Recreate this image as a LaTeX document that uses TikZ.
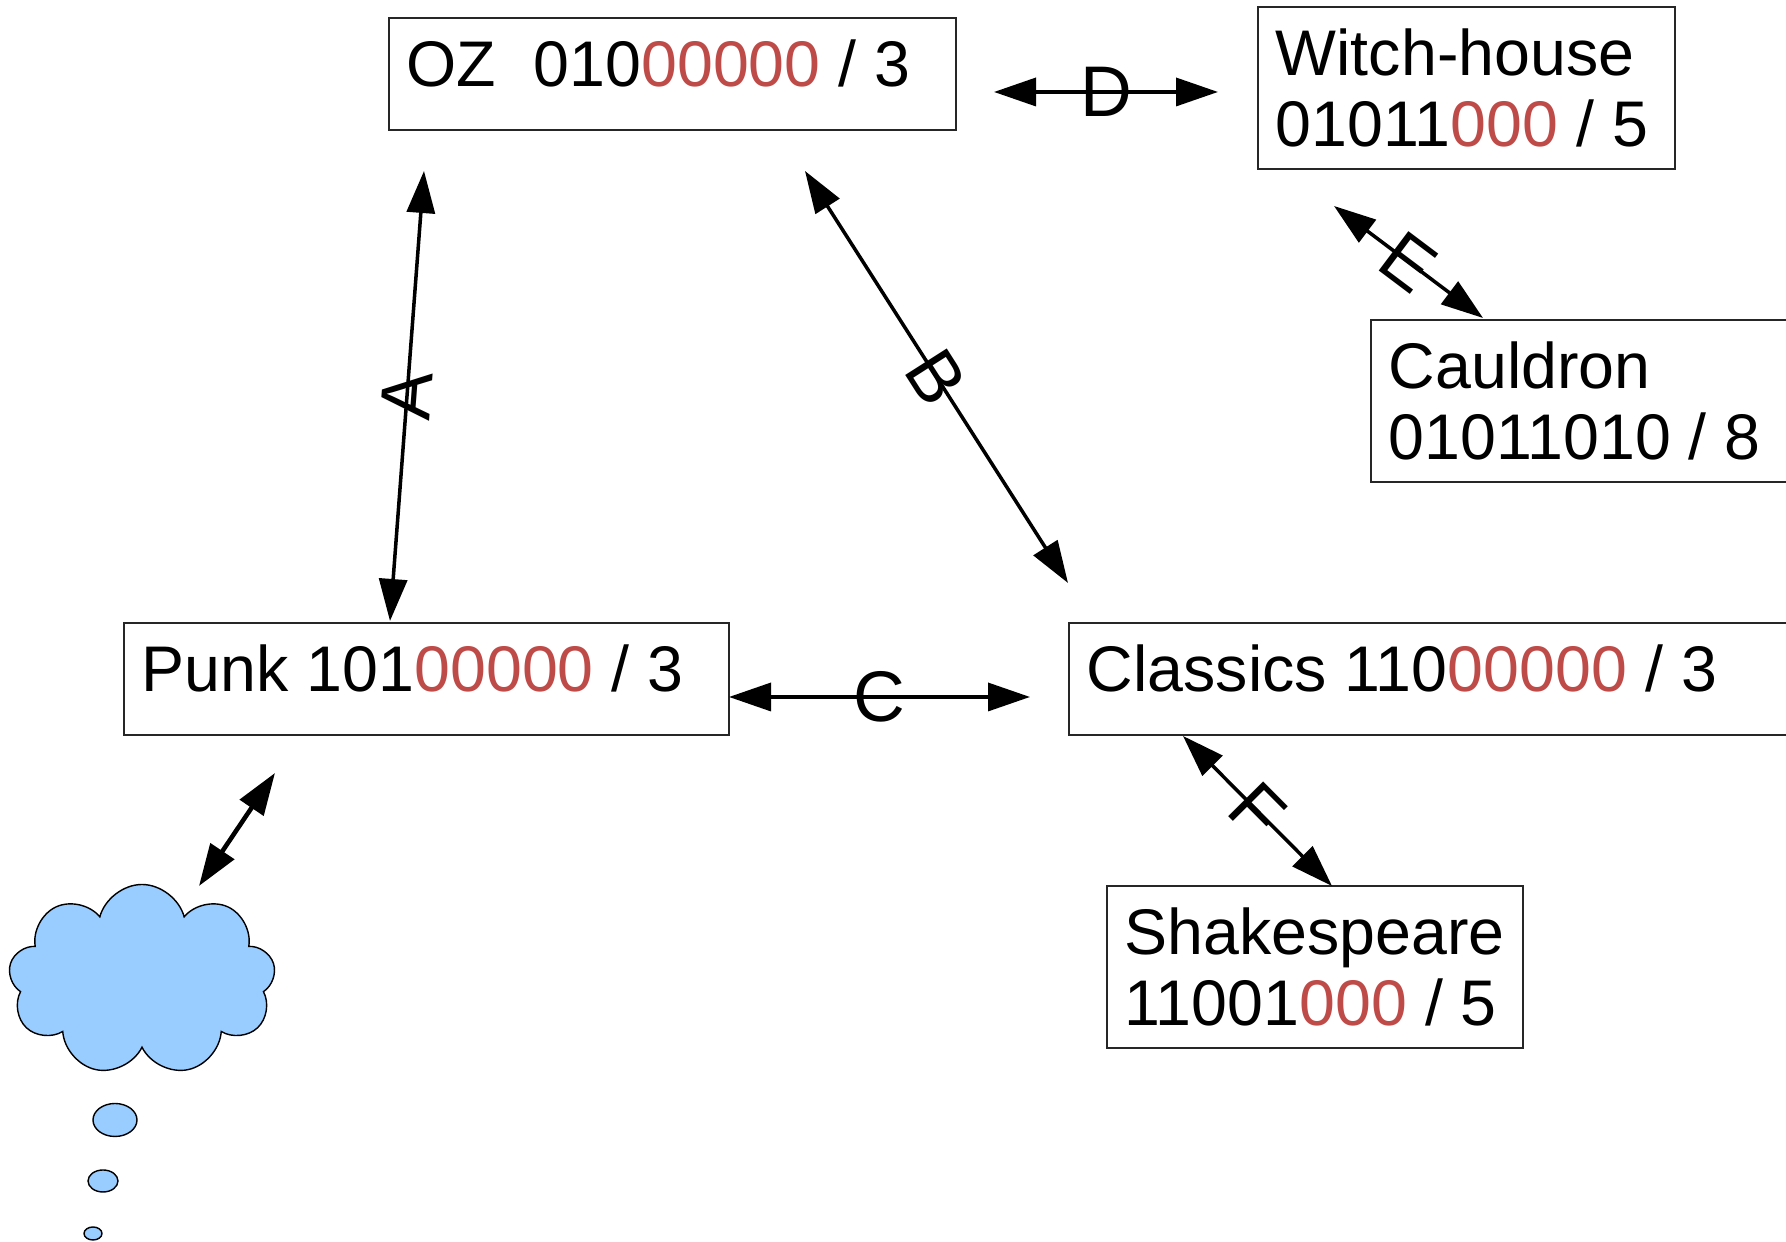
\documentclass[tikz,border=0pt]{standalone}
\usepackage{fontspec}
\setmainfont{Liberation Sans}
\usepackage{tikz}
\usetikzlibrary{arrows.meta, shapes.symbols, positioning}
\definecolor{bitred}{RGB}{190,75,72}
\definecolor{skyblue}{RGB}{153,204,255}
\newcommand{\freebits}[1]{\textcolor{bitred}{#1}}
\newcommand{\tightwords}{\spaceskip=0.28em\relax\hyphenpenalty=10000\relax\exhyphenpenalty=10000\relax}

\tikzset{
  genre/.style={draw=black!85, line width=0.45pt, anchor=north west, inner xsep=1.8mm, inner ysep=0pt, align=left, text height=6.9mm, font=\fontsize{18.35pt}{20.2pt}\selectfont, execute at begin node=\tightwords},
  oneline/.style={text depth=4.3mm},
  twoline/.style={text depth=9.3mm},
  link/.style={{Triangle[length=4.2mm,width=2.8mm]}-{Triangle[length=4.2mm,width=2.8mm]}, line width=1pt},
  tag/.style={midway, sloped, inner sep=0pt, font=\fontsize{20.4pt}{22pt}\selectfont},
  bubble/.style={draw, fill=skyblue, line width=0.4pt}
}

\begin{document}
\begin{tikzpicture}
\useasboundingbox (0,0) rectangle (17.86,12.42);
\node[genre, oneline, text width=5.31cm] (oz) at (3.88,12.25) {OZ\hspace{0.58em}010\freebits{00000} / 3};
\node[genre, twoline, text width=3.81cm] (witch) at (12.57,12.36) {Witch-house\\01011\freebits{000} / 5};
\node[genre, twoline, text width=4.24cm] (cauldron) at (13.70,9.23) {Cauldron\\01011010 / 8};
\node[genre, oneline, text width=5.69cm] (punk) at (1.23,6.20) {Punk 101\freebits{00000} / 3};
\node[genre, oneline, text width=7.24cm] (classics) at (10.68,6.20) {Classics 110\freebits{00000} / 3};
\node[genre, twoline, text width=3.80cm] (shakespeare) at (11.06,3.57) {Shakespeare\\11001\freebits{000} / 5};
\node[cloud, cloud puffs=9, aspect=1.4, draw, fill=skyblue, line width=0.4pt, minimum width=2.67cm, minimum height=1.91cm, inner sep=0pt] (thought) at (1.42,2.62) {};
\draw[bubble] (1.15,1.22) ellipse (0.22 and 0.165);
\draw[bubble] (1.03,0.61) ellipse (0.15 and 0.11);
\draw[bubble] (0.93,0.085) ellipse (0.09 and 0.065);
\coordinate (a1) at (4.24,10.71);
\coordinate (a2) at (3.90,6.21);
\coordinate (b1) at (8.05,10.71);
\coordinate (b2) at (10.68,6.59);
\coordinate (c1) at (7.29,5.45);
\coordinate (c2) at (10.30,5.45);
\coordinate (d1) at (9.94,11.50);
\coordinate (d2) at (12.18,11.50);
\coordinate (e1) at (13.34,10.36);
\coordinate (e2) at (14.83,9.24);
\coordinate (f1) at (11.83,5.06);
\coordinate (f2) at (13.32,3.56);
\coordinate (g1) at (2.75,4.69);
\coordinate (g2) at (1.99,3.56);
\draw[link] (a1) -- (a2) node[tag] {A};
\draw[link] (b1) -- (b2) node[tag] {B};
\draw[link] (c1) -- (c2) node[tag] {C};
\draw[link] (d1) -- (d2) node[tag] {D};
\draw[link] (e1) -- (e2) node[tag] {E};
\draw[link] (f1) -- (f2) node[tag] {F};
\draw[link, line width=1.3pt] (g1) -- (g2);
\end{tikzpicture}
\end{document}
